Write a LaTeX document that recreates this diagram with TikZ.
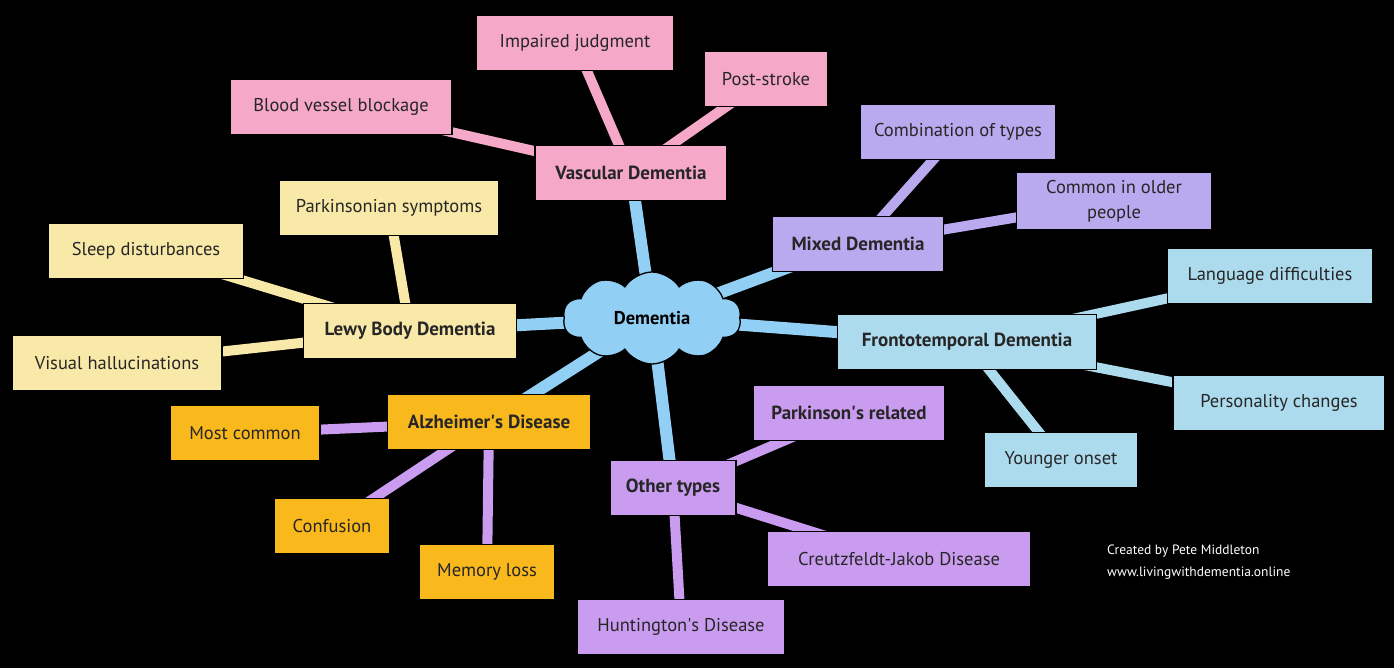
\documentclass[tikz,border=0pt]{standalone}
\usepackage{fontspec}
\setmainfont{PT Sans}
\usetikzlibrary{shapes.symbols}
\pgfdeclarelayer{back}
\pgfdeclarelayer{links}
\pgfsetlayers{back,links,main}
\definecolor{cpink}{HTML}{F5A8C7}
\definecolor{cyellow}{HTML}{F8E9A9}
\definecolor{clav}{HTML}{B9AAF0}
\definecolor{clblue}{HTML}{ADDBEE}
\definecolor{corange}{HTML}{F9B81B}
\definecolor{cviolet}{HTML}{C99CEF}
\definecolor{ccloud}{HTML}{91CFF5}
\newcommand{\apos}{\textquotesingle}
\tikzset{
  box/.style={draw=black, line width=1.3pt, minimum height=55, inner sep=4pt,
    font=\fontsize{18.5}{21}\selectfont, text=black!85},
  mainbox/.style={box, font=\fontsize{19}{21}\selectfont\bfseries},
  spoke/.style={line width=12pt, ccloud},
  link/.style={line width=10pt},
}
\begin{document}
\begin{tikzpicture}[x=1pt,y=-1pt]
\begin{pgfonlayer}{back}
\fill[black] (0,0) rectangle (1394,668);
\end{pgfonlayer}
\useasboundingbox (0,0) rectangle (1394,668);

% center
\node[cloud, cloud puffs=10, cloud puff arc=115, aspect=2, draw=black, line width=1.3pt,
  fill=ccloud, minimum width=178, minimum height=92, inner sep=0pt,
  font=\fontsize{18.5}{21}\selectfont\bfseries] (c) at (652,318) {Dementia};

% Vascular
\node[mainbox, fill=cpink, minimum width=192] (vd) at (631,173) {Vascular Dementia};
\node[box, fill=cpink, minimum width=198] (ij) at (575,43) {Impaired judgment};
\node[box, fill=cpink, minimum width=123] (ps) at (766,79) {Post-stroke};
\node[box, fill=cpink, minimum width=222] (bvb) at (341,107) {Blood vessel blockage};

% Mixed
\node[mainbox, fill=clav, minimum width=171] (md) at (858,244) {Mixed Dementia};
\node[box, fill=clav, minimum width=195] (cot) at (958,132) {Combination of types};
\node[box, fill=clav, minimum width=195, minimum height=57, align=center,
  font=\fontsize{18.5}{25}\selectfont] (ciop) at (1114,201) {Common in older\\people};

% Lewy
\node[mainbox, fill=cyellow, minimum width=213] (lbd) at (410,331) {Lewy Body Dementia};
\node[box, fill=cyellow, minimum width=220] (psy) at (389,208) {Parkinsonian symptoms};
\node[box, fill=cyellow, minimum width=195] (sd) at (146,251) {Sleep disturbances};
\node[box, fill=cyellow, minimum width=210] (vh) at (117,363) {Visual hallucinations};

% Frontotemporal
\node[mainbox, fill=clblue, minimum width=259] (ftd) at (967,342) {Frontotemporal Dementia};
\node[box, fill=clblue, minimum width=205] (ld) at (1270,276) {Language difficulties};
\node[box, fill=clblue, minimum width=212] (pc) at (1279,403) {Personality changes};
\node[box, fill=clblue, minimum width=153] (yo) at (1061,460) {Younger onset};

% Alzheimer
\node[mainbox, fill=corange, minimum width=203] (ad) at (489,422) {Alzheimer\apos s Disease};
\node[box, fill=corange, minimum width=150] (mc) at (245,433) {Most common};
\node[box, fill=corange, minimum width=115] (cf) at (332,526) {Confusion};
\node[box, fill=corange, minimum width=135] (ml) at (487,572) {Memory loss};

% Other types
\node[mainbox, fill=cviolet, minimum width=126] (ot) at (673,488) {Other types};
\node[mainbox, fill=cviolet, minimum width=191] (pr) at (849,413) {Parkinson\apos s related};
\node[box, fill=cviolet, minimum width=264] (cjd) at (899,559) {Creutzfeldt-Jakob Disease};
\node[box, fill=cviolet, minimum width=207] (hd) at (681,627) {Huntington\apos s Disease};

% credit
\node[anchor=north west, align=left, text=white, inner sep=0pt,
  font=\fontsize{13.5}{22}\selectfont] (cr) at (1107,545) {Created by Pete Middleton\\www.livingwithdementia.online};

\begin{pgfonlayer}{links}
% spokes
\draw[spoke] (c.center) -- (vd.center);
\draw[spoke] (c.center) -- ([xshift=25,yshift=8]md.south west);
\draw[spoke] (c.center) -- (ftd.center);
\draw[spoke] (c.center) -- (ot.center);
\draw[spoke] (c.center) -- (ad.center);
\draw[spoke] (c.center) -- (lbd.center);
% vascular
\draw[link, cpink] (vd.center) -- (ij.center);
\draw[link, cpink] (vd.center) -- (ps.center);
\draw[link, cpink] (vd.center) -- (bvb.center);
% mixed
\draw[link, clav] (md.center) -- (cot.center);
\draw[link, clav] (md.center) -- (ciop.center);
% lewy
\draw[link, cyellow] (lbd.center) -- (psy.center);
\draw[link, cyellow] (lbd.center) -- (sd.center);
\draw[link, cyellow] (lbd.center) -- (vh.center);
% ftd
\draw[link, clblue] (ftd.center) -- (ld.center);
\draw[link, clblue] (ftd.center) -- (pc.center);
\draw[link, clblue] (ftd.center) -- (yo.center);
% alzheimer
\draw[link, cviolet] (ad.center) -- (mc.center);
\draw[link, cviolet] (ad.center) -- (cf.center);
\draw[link, cviolet] (ad.center) -- (ml.center);
% other
\draw[link, cviolet] (ot.center) -- (pr.center);
\draw[link, cviolet] (ot.center) -- (cjd.center);
\draw[link, cviolet] (ot.center) -- (hd.center);
\end{pgfonlayer}
\end{tikzpicture}
\end{document}
